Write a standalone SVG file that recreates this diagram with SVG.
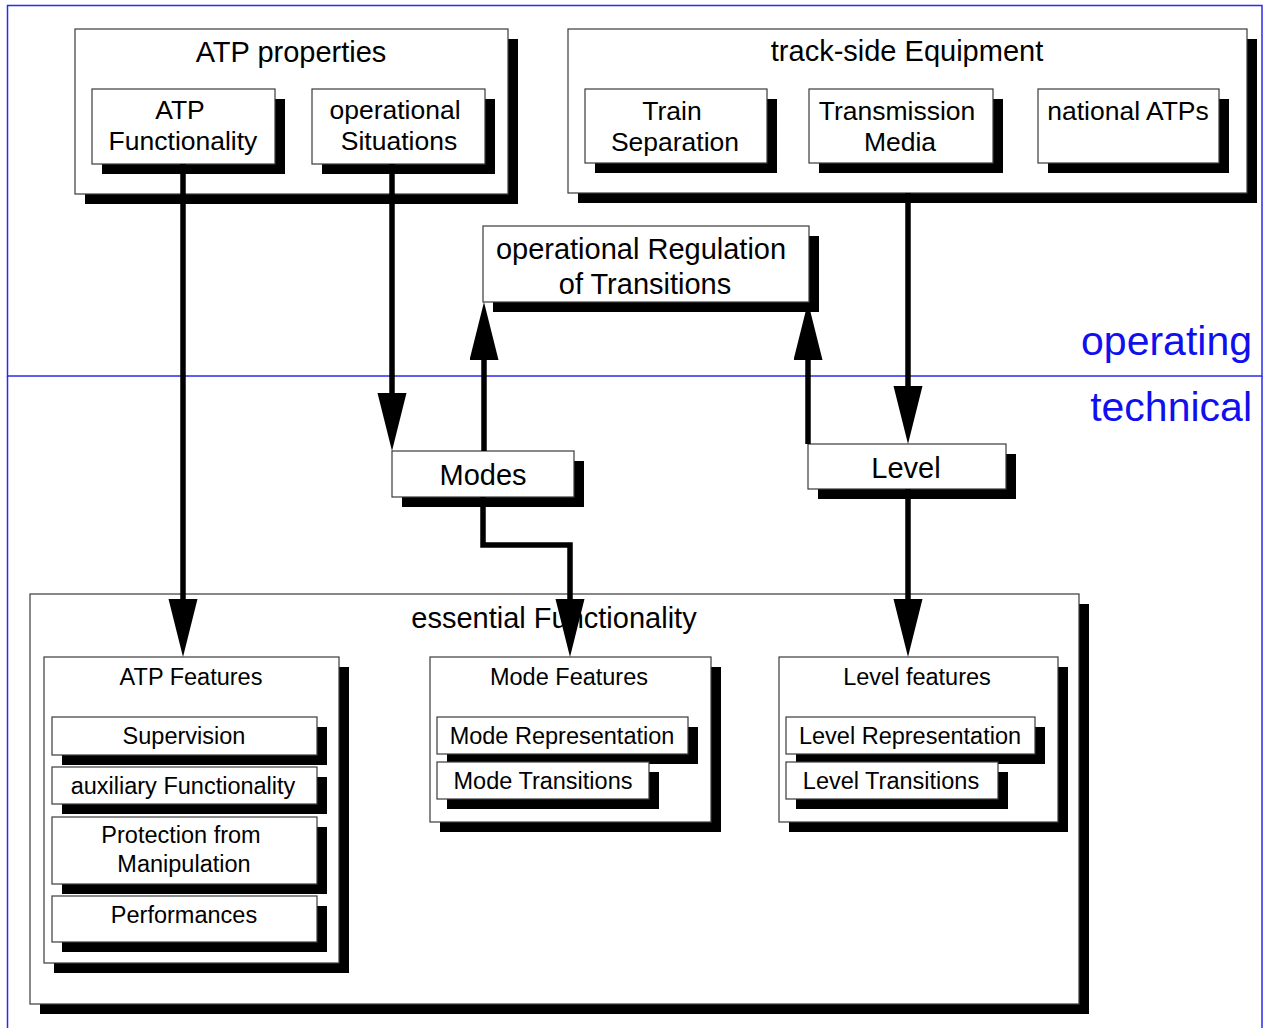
<svg xmlns="http://www.w3.org/2000/svg" width="1264" height="1028" viewBox="0 0 1264 1028">
<style>
text{font-family:"Liberation Sans",Arial,sans-serif;fill:#000;text-anchor:middle}
.h{font-size:29px}
.m{font-size:26.5px}
.s{font-size:23.5px}
.zone{font-size:41px;fill:#1010ee;text-anchor:end}
.box{fill:#fff;stroke:#3a3a3a;stroke-width:1.2}
.sh{fill:#000}
.frame{fill:none;stroke:#2a2af0;stroke-width:1.5}
.conn{fill:none;stroke:#000;stroke-width:5.5;stroke-linejoin:miter;marker-end:url(#ah)}
</style>
<defs>
<marker id="ah" markerUnits="userSpaceOnUse" markerWidth="60" markerHeight="30" refX="38" refY="14.5" orient="auto">
<path d="M0,0 L58,14.5 L0,29 z" fill="#000"/>
</marker>
</defs>
<rect width="1264" height="1028" fill="#fff"/>
<g id="zones">
<rect class="frame" x="7.5" y="5.5" width="1254.5" height="370.5"/>
<path class="frame" d="M7.5,376 V1030 M1262,376 V1030"/>
<text class="zone" x="1252" y="355">operating</text>
<text class="zone" x="1252" y="421">technical</text>
</g>
<g id="atp-properties">
<rect class="sh" x="85" y="39" width="433" height="165"/>
<rect class="box" x="75" y="29" width="433" height="165"/>
<text class="h" x="291" y="62">ATP properties</text>
</g>
<g id="atp-functionality">
<rect class="sh" x="102" y="99" width="183" height="75"/>
<rect class="box" x="92" y="89" width="183" height="75"/>
<text class="m" x="180" y="119">ATP</text>
<text class="m" x="183" y="150">Functionality</text>
</g>
<g id="operational-situations">
<rect class="sh" x="322" y="99" width="173" height="75"/>
<rect class="box" x="312" y="89" width="173" height="75"/>
<text class="m" x="395" y="119">operational</text>
<text class="m" x="399" y="150">Situations</text>
</g>
<g id="track-side-equipment">
<rect class="sh" x="578" y="39" width="679" height="164"/>
<rect class="box" x="568" y="29" width="679" height="164"/>
<text class="h" x="907" y="61">track-side Equipment</text>
</g>
<g id="train-separation">
<rect class="sh" x="595" y="99" width="182" height="74"/>
<rect class="box" x="585" y="89" width="182" height="74"/>
<text class="m" x="672" y="120">Train</text>
<text class="m" x="675" y="151">Separation</text>
</g>
<g id="transmission-media">
<rect class="sh" x="819" y="99" width="184" height="74"/>
<rect class="box" x="809" y="89" width="184" height="74"/>
<text class="m" x="897" y="120">Transmission</text>
<text class="m" x="900" y="151">Media</text>
</g>
<g id="national-atps">
<rect class="sh" x="1048" y="99" width="181" height="74"/>
<rect class="box" x="1038" y="89" width="181" height="74"/>
<text class="m" x="1128" y="120">national ATPs</text>
</g>
<g id="operational-regulation">
<rect class="sh" x="493" y="236" width="326" height="76"/>
<rect class="box" x="483" y="226" width="326" height="76"/>
<text class="h" x="641" y="259">operational Regulation</text>
<text class="h" x="645" y="294">of Transitions</text>
</g>
<g id="modes">
<rect class="sh" x="402" y="461" width="182" height="46"/>
<rect class="box" x="392" y="451" width="182" height="46"/>
<text class="h" x="483" y="485">Modes</text>
</g>
<g id="level">
<rect class="sh" x="818" y="454" width="198" height="45"/>
<rect class="box" x="808" y="444" width="198" height="45"/>
<text class="h" x="906" y="478">Level</text>
</g>
<g id="essential-functionality">
<rect class="sh" x="40" y="604" width="1049" height="410"/>
<rect class="box" x="30" y="594" width="1049" height="410"/>
<text class="h" x="554" y="628">essential Functionality</text>
</g>
<g id="atp-features">
<rect class="sh" x="54" y="667" width="295" height="306"/>
<rect class="box" x="44" y="657" width="295" height="306"/>
<text class="s" x="191" y="685">ATP Features</text>
</g>
<g id="supervision">
<rect class="sh" x="62" y="727" width="265" height="38"/>
<rect class="box" x="52" y="717" width="265" height="38"/>
<text class="s" x="184" y="744">Supervision</text>
</g>
<g id="auxiliary-functionality">
<rect class="sh" x="62" y="777" width="265" height="37"/>
<rect class="box" x="52" y="767" width="265" height="37"/>
<text class="s" x="183" y="794">auxiliary Functionality</text>
</g>
<g id="protection-from-manipulation">
<rect class="sh" x="62" y="827" width="265" height="67"/>
<rect class="box" x="52" y="817" width="265" height="67"/>
<text class="s" x="181" y="843">Protection from</text>
<text class="s" x="184" y="872">Manipulation</text>
</g>
<g id="performances">
<rect class="sh" x="62" y="906" width="265" height="46"/>
<rect class="box" x="52" y="896" width="265" height="46"/>
<text class="s" x="184" y="923">Performances</text>
</g>
<g id="mode-features">
<rect class="sh" x="440" y="667" width="281" height="165"/>
<rect class="box" x="430" y="657" width="281" height="165"/>
<text class="s" x="569" y="685">Mode Features</text>
</g>
<g id="mode-representation">
<rect class="sh" x="447" y="727" width="251" height="37"/>
<rect class="box" x="437" y="717" width="251" height="37"/>
<text class="s" x="562" y="744">Mode Representation</text>
</g>
<g id="mode-transitions">
<rect class="sh" x="447" y="772" width="212" height="37"/>
<rect class="box" x="437" y="762" width="212" height="37"/>
<text class="s" x="543" y="789">Mode Transitions</text>
</g>
<g id="level-features">
<rect class="sh" x="789" y="667" width="279" height="165"/>
<rect class="box" x="779" y="657" width="279" height="165"/>
<text class="s" x="917" y="685">Level features</text>
</g>
<g id="level-representation">
<rect class="sh" x="796" y="727" width="249" height="37"/>
<rect class="box" x="786" y="717" width="249" height="37"/>
<text class="s" x="910" y="744">Level Representation</text>
</g>
<g id="level-transitions">
<rect class="sh" x="796" y="772" width="212" height="37"/>
<rect class="box" x="786" y="762" width="212" height="37"/>
<text class="s" x="891" y="789">Level Transitions</text>
</g>
<g id="connectors">
<path class="conn" d="M183,164 V637"/>
<path class="conn" d="M392,164 V431"/>
<path class="conn" d="M908,193 V424"/>
<path class="conn" d="M484,451 V322"/>
<path class="conn" d="M808,444 V322"/>
<path class="conn" d="M483,497 V545 H570 V637"/>
<path class="conn" d="M908,489 V637"/>
</g>
</svg>
